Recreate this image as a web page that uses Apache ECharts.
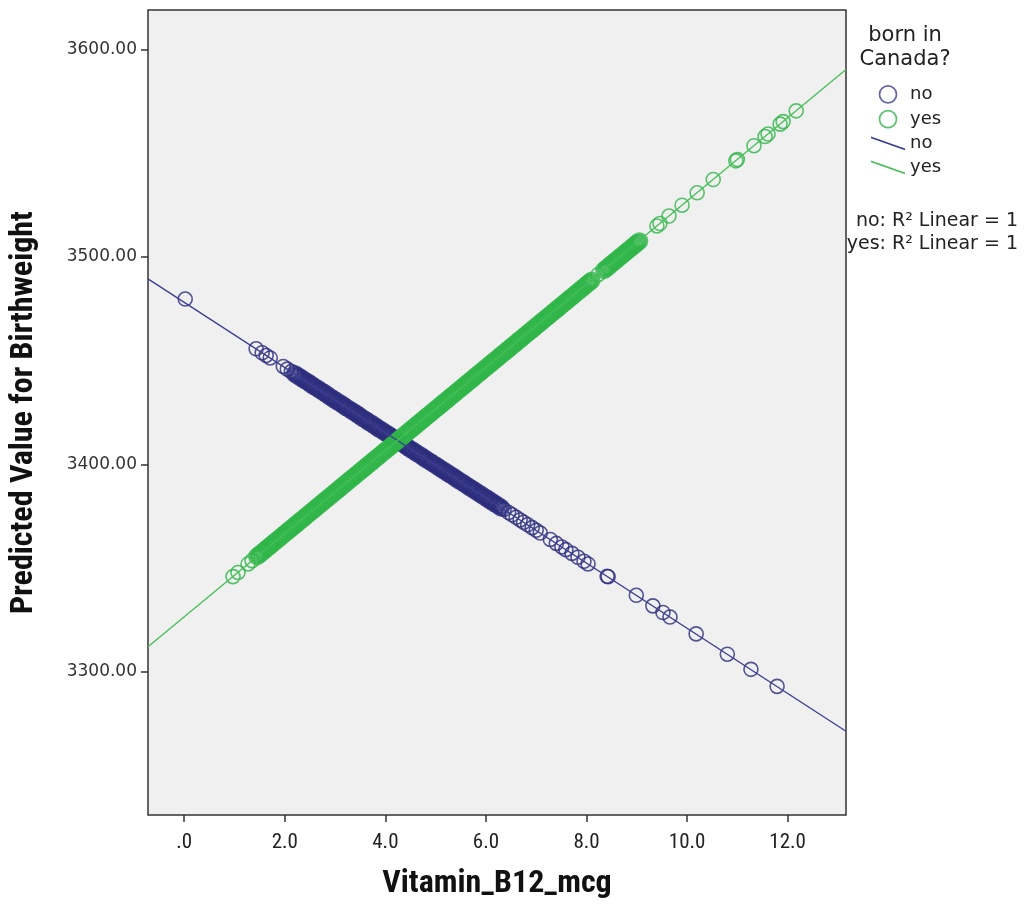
<!DOCTYPE html>
<html><head><meta charset="utf-8">
<script src="https://cdn.jsdelivr.net/npm/echarts@6/dist/echarts.min.js"></script>
<style>html,body{margin:0;padding:0;background:#fff}#c{width:1028px;height:905px}</style>
</head><body><div id="c"></div>
<script>
const xTicks = [0, 2, 4, 6, 8, 10, 12];
const yTicks = [3300, 3400, 3500, 3600];
const groupNames = ['no', 'yes'];

// Vitamin_B12_mcg vs predicted birthweight, born in Canada = no
const noSparse = [[0.02,3479.7],[1.43,3455.7],[1.55,3453.8],[1.63,3452.5],[1.71,3451.3],[1.97,3447.2],[2.05,3445.9],[2.13,3444.7],
[6.36,3378.3],[6.45,3376.8],[6.52,3375.7],[6.60,3374.5],[6.68,3373.2],[6.75,3372.1],[6.83,3370.9],[6.92,3369.5],[7.00,3368.2],[7.08,3366.9],
[7.28,3363.8],[7.40,3361.9],[7.51,3360.2],[7.59,3358.9],[7.71,3357.1],[7.83,3355.2],[7.95,3353.3],[8.03,3352.0],[8.41,3346.1],[8.43,3345.8],
[8.99,3336.9],[9.32,3331.8],[9.52,3328.6],[9.66,3326.4],[10.18,3318.3],[10.80,3308.5],[11.27,3301.2],[11.79,3293.0]];
const noDense = [[2.20,3443.6],[2.26,3442.6],[2.33,3441.6],[2.39,3440.6],[2.46,3439.6],[2.52,3438.6],[2.58,3437.6],[2.65,3436.6],[2.71,3435.6],[2.78,3434.6],
[2.84,3433.6],[2.90,3432.5],[2.97,3431.5],[3.03,3430.5],[3.10,3429.5],[3.16,3428.5],[3.22,3427.5],[3.29,3426.5],[3.35,3425.5],[3.42,3424.5],
[3.48,3423.5],[3.54,3422.4],[3.61,3421.4],[3.67,3420.4],[3.74,3419.4],[3.80,3418.4],[3.86,3417.4],[3.93,3416.4],[3.99,3415.4],[4.06,3414.4],
[4.12,3413.4],[4.18,3412.4],[4.25,3411.4],[4.31,3410.4],[4.38,3409.4],[4.44,3408.3],[4.50,3407.3],[4.57,3406.3],[4.63,3405.3],[4.70,3404.3],
[4.76,3403.3],[4.82,3402.3],[4.89,3401.3],[4.95,3400.3],[5.02,3399.3],[5.08,3398.3],[5.14,3397.3],[5.21,3396.3],[5.27,3395.3],[5.34,3394.3],
[5.40,3393.3],[5.46,3392.3],[5.53,3391.3],[5.59,3390.3],[5.66,3389.2],[5.72,3388.3],[5.78,3387.3],[5.85,3386.2],[5.91,3385.3],[5.98,3384.2],
[6.04,3383.3],[6.10,3382.3],[6.17,3381.2],[6.23,3380.3],[6.30,3379.2]];

// born in Canada = yes
const yesSparse = [[0.97,3345.9],[1.07,3347.9],[1.27,3352.0],[1.35,3353.6],[8.23,3491.4],[9.40,3514.9],[9.46,3516.1],[9.64,3519.7],[9.90,3524.9],
[10.20,3530.9],[10.52,3537.3],[10.97,3546.3],[11.00,3546.9],[11.33,3553.6],[11.55,3558.0],[11.61,3559.2],[11.85,3564.0],[11.91,3565.2],[12.17,3570.4]];
const yesDense = [[1.45,3355.6],[1.50,3356.6],[1.55,3357.6],[1.60,3358.6],[1.65,3359.6],[1.70,3360.6],[1.75,3361.6],[1.80,3362.6],[1.85,3363.6],[1.90,3364.6],[1.95,3365.6],
[2.00,3366.6],[2.05,3367.6],[2.10,3368.6],[2.15,3369.6],[2.20,3370.6],[2.25,3371.6],[2.30,3372.6],[2.35,3373.6],[2.40,3374.6],[2.45,3375.6],
[2.50,3376.6],[2.55,3377.6],[2.60,3378.6],[2.65,3379.6],[2.70,3380.6],[2.75,3381.6],[2.80,3382.6],[2.85,3383.6],[2.90,3384.6],[2.95,3385.6],
[3.00,3386.6],[3.05,3387.6],[3.10,3388.6],[3.15,3389.6],[3.20,3390.6],[3.25,3391.6],[3.30,3392.6],[3.35,3393.6],[3.40,3394.6],[3.45,3395.6],
[3.50,3396.6],[3.55,3397.6],[3.60,3398.6],[3.65,3399.6],[3.70,3400.6],[3.75,3401.6],[3.80,3402.6],[3.85,3403.6],[3.90,3404.6],[3.95,3405.6],
[4.00,3406.6],[4.05,3407.6],[4.10,3408.6],[4.15,3409.6],[4.20,3410.6],[4.25,3411.6],[4.30,3412.6],[4.35,3413.6],[4.40,3414.6],[4.45,3415.6],
[4.50,3416.6],[4.55,3417.6],[4.60,3418.6],[4.65,3419.6],[4.70,3420.6],[4.75,3421.6],[4.80,3422.6],[4.85,3423.6],[4.90,3424.6],[4.95,3425.6],
[5.00,3426.6],[5.05,3427.6],[5.10,3428.6],[5.15,3429.6],[5.20,3430.6],[5.25,3431.6],[5.30,3432.6],[5.35,3433.6],[5.40,3434.6],[5.45,3435.6],
[5.50,3436.6],[5.55,3437.6],[5.60,3438.6],[5.65,3439.6],[5.70,3440.6],[5.75,3441.6],[5.80,3442.6],[5.85,3443.6],[5.90,3444.6],[5.95,3445.6],
[6.00,3446.6],[6.05,3447.6],[6.10,3448.6],[6.15,3449.6],[6.20,3450.6],[6.25,3451.6],[6.30,3452.6],[6.35,3453.6],[6.40,3454.6],[6.45,3455.6],
[6.50,3456.6],[6.55,3457.6],[6.60,3458.6],[6.65,3459.6],[6.70,3460.6],[6.75,3461.6],[6.80,3462.6],[6.85,3463.6],[6.90,3464.6],[6.95,3465.6],
[7.00,3466.6],[7.05,3467.6],[7.10,3468.6],[7.15,3469.6],[7.20,3470.6],[7.25,3471.6],[7.30,3472.6],[7.35,3473.6],[7.40,3474.6],[7.45,3475.6],
[7.50,3476.6],[7.55,3477.6],[7.60,3478.6],[7.65,3479.6],[7.70,3480.6],[7.75,3481.6],[7.80,3482.6],[7.85,3483.6],[7.90,3484.6],[7.95,3485.6],
[8.00,3486.6],[8.05,3487.6],[8.10,3488.6],
[8.35,3493.6],[8.40,3494.6],[8.45,3495.6],[8.50,3496.6],[8.55,3497.6],[8.60,3498.6],[8.65,3499.6],[8.70,3500.6],[8.75,3501.6],[8.80,3502.6],
[8.85,3503.6],[8.90,3504.6],[8.95,3505.6],[9.00,3506.6],[9.05,3507.6]];

// Linear fit lines (endpoints at the axis range)
const noFit = [[-0.72,3489.4],[13.16,3271.4]];
const yesFit = [[-0.72,3312.1],[13.16,3590.3]];

const BLUE = '#2a2c7c', GREEN = '#30b548';
const BLUE_LINE = '#3b3e90', GREEN_LINE = '#44bf55';
const FONT = '"DejaVu Sans", "Open Sans", sans-serif';
const NARROW = '"Liberation Sans Narrow", "Roboto Condensed", "Liberation Sans", sans-serif';

function pts(sparse, dense) {
  return sparse.map(p => ({ value: p }))
    .concat(dense.map(p => ({ value: p, itemStyle: { borderWidth: 4 } })));
}
function scatter(name, color, data) {
  return {
    type: 'scatter', name: name, data: data, symbol: 'circle', symbolSize: 14,
    itemStyle: { color: 'rgba(0,0,0,0)', borderColor: color, borderWidth: 1.6 },
    emphasis: { disabled: true }, animation: false, z: 2
  };
}
function fit(name, color, data) {
  return {
    type: 'line', name: name, data: data, symbol: 'none', color: color,
    lineStyle: { color: color, width: 1.3 }, emphasis: { disabled: true }, animation: false, z: 3
  };
}

const chart = echarts.init(document.getElementById('c'), null, { renderer: 'canvas' });
chart.setOption({
  backgroundColor: '#ffffff',
  animation: false,
  grid: { left: 148, right: 182, top: 10, bottom: 88, show: true, backgroundColor: '#f0f0f0', borderColor: '#333', borderWidth: 1.5 },
  xAxis: {
    type: 'value', min: -0.72, max: 13.16,
    name: 'Vitamin_B12_mcg', nameLocation: 'middle', nameGap: 53,
    nameTextStyle: { fontFamily: NARROW, fontWeight: 'bold', fontSize: 32, color: '#111' },
    axisLine: { show: false, onZero: false },
    axisTick: { show: true, customValues: xTicks, length: 7, lineStyle: { color: '#333', width: 1.5 } },
    axisLabel: { customValues: xTicks, margin: 17, fontFamily: NARROW, fontSize: 21, color: '#222',
      formatter: v => (v === 0 ? '.0' : v.toFixed(1)) },
    splitLine: { show: false }
  },
  yAxis: {
    type: 'value', min: 3231, max: 3619,
    name: 'Predicted Value for Birthweight', nameLocation: 'middle', nameGap: 108,
    nameTextStyle: { fontFamily: NARROW, fontWeight: 'bold', fontSize: 32, color: '#111' },
    axisLine: { show: false, onZero: false },
    axisTick: { show: true, customValues: yTicks, length: 7, lineStyle: { color: '#333', width: 1.5 } },
    axisLabel: { customValues: yTicks, margin: 11, fontFamily: FONT, fontSize: 17, color: '#333',
      formatter: v => v.toFixed(2) },
    splitLine: { show: false }
  },
  legend: {
    orient: 'vertical', left: 866, top: 80, itemWidth: 34, itemHeight: 17, itemGap: 6,
    selectedMode: false,
    textStyle: { fontFamily: FONT, fontSize: 18, color: '#222' },
    formatter: n => n.replace(' fit', ''),
    data: [
      { name: groupNames[0], icon: 'circle', itemStyle: { color: 'rgba(0,0,0,0)', borderColor: BLUE_LINE, borderWidth: 1.7 } },
      { name: groupNames[1], icon: 'circle', itemStyle: { color: 'rgba(0,0,0,0)', borderColor: GREEN, borderWidth: 1.7 } },
      { name: groupNames[0] + ' fit', icon: 'path://M0,0L34,12L34,13.6L0,1.6Z', itemStyle: { color: BLUE_LINE, borderWidth: 0 } },
      { name: groupNames[1] + ' fit', icon: 'path://M0,0L34,12L34,13.6L0,1.6Z', itemStyle: { color: GREEN_LINE, borderWidth: 0 } }
    ]
  },
  graphic: [
    { type: 'text', x: 905, y: 24, style: { text: 'born in\nCanada?', align: 'center', font: '21px ' + FONT, fill: '#222', lineHeight: 24 } },
    { type: 'text', x: 1018, y: 210, style: { text: 'no: R² Linear = 1\nyes: R² Linear = 1', align: 'right', font: '19px ' + FONT, fill: '#222', lineHeight: 23 } }
  ],
  series: [
    scatter(groupNames[0], BLUE, pts(noSparse, noDense)),
    scatter(groupNames[1], GREEN, pts(yesSparse, yesDense)),
    fit(groupNames[0] + ' fit', BLUE_LINE, noFit),
    fit(groupNames[1] + ' fit', GREEN_LINE, yesFit)
  ]
});
</script></body></html>
